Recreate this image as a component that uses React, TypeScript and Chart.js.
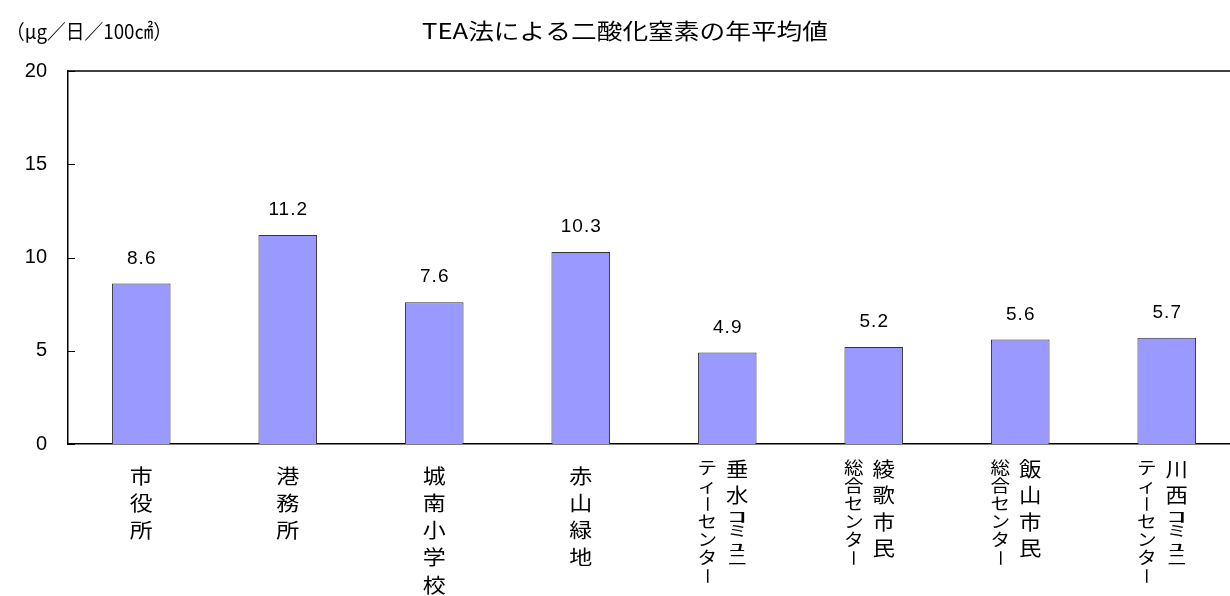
import React, { useEffect, useRef } from "react";
import { Chart, registerables } from "chart.js";

Chart.register(...registerables);

const TITLE = "TEA法による二酸化窒素の年平均値";
const UNIT_LABEL = "（μg／日／100㎠）";
const labelMain = ["市役所", "港務所", "城南小学校", "赤山緑地", "垂水ｺﾐｭﾆ", "綾歌市民", "飯山市民", "川西ｺﾐｭﾆ"];
const labelSub = ["", "", "", "", "ティーセンター", "総合センター", "総合センター", "ティーセンター"];
const values = [8.6, 11.2, 7.6, 10.3, 4.9, 5.2, 5.6, 5.7];
const yTicks = [0, 5, 10, 15, 20];

const SANS = '"Liberation Sans", "Noto Sans CJK JP", sans-serif';
const CJK = '"Noto Sans CJK JP", "Liberation Sans", sans-serif';

function drawColumn(
  ctx: CanvasRenderingContext2D,
  text: string,
  cx: number,
  firstCenter: number,
  pitchFull: number,
  pitchHalf: number,
  sx: number
) {
  let y = firstCenter - pitchFull / 2;
  for (const ch of Array.from(text)) {
    const half = /[\uFF61-\uFF9F]/.test(ch);
    const pitch = half ? pitchHalf : pitchFull;
    const cy = y + pitch / 2;
    ctx.save();
    ctx.translate(cx, cy);
    if (ch === "ー") {
      ctx.rotate(Math.PI / 2);
    } else if (half) {
      ctx.scale(2.0, 0.75);
    } else {
      ctx.scale(sx, 1);
    }
    ctx.fillText(ch, 0, 0);
    ctx.restore();
    y += pitch;
  }
}

function fitText(ctx: CanvasRenderingContext2D, text: string, left: number, cy: number, width: number) {
  const w = ctx.measureText(text).width;
  ctx.save();
  ctx.translate(left, cy);
  ctx.scale(width / w, 1);
  ctx.textAlign = "left";
  ctx.fillText(text, 0, 0);
  ctx.restore();
}

const overlayPlugin = {
  id: "overlay",
  afterDraw(chart: any) {
    const ctx: CanvasRenderingContext2D = chart.ctx;
    const area = chart.chartArea;
    const xs = chart.scales.x;
    const ys = chart.scales.y;
    ctx.save();
    ctx.strokeStyle = "#000";
    ctx.lineWidth = 1.5;
    ctx.beginPath();
    ctx.moveTo(area.left, area.top);
    ctx.lineTo(chart.width, area.top);
    ctx.stroke();
    ctx.lineWidth = 1;
    for (const t of yTicks) {
      const py = Math.round(ys.getPixelForValue(t)) + 0.5;
      ctx.beginPath();
      ctx.moveTo(area.left, py);
      ctx.lineTo(area.left + 7, py);
      ctx.stroke();
    }
    ctx.fillStyle = "#000";
    ctx.font = `19px ${SANS}`;
    (ctx as any).letterSpacing = "1px";
    ctx.textAlign = "center";
    ctx.textBaseline = "middle";
    values.forEach((v, i) => {
      const px = xs.getPixelForValue(i);
      const py = ys.getPixelForValue(v);
      ctx.fillText(v.toFixed(1), px + 0.5, py - 25);
    });
    (ctx as any).letterSpacing = "0px";
    labelMain.forEach((m, i) => {
      const px = xs.getPixelForValue(i);
      ctx.font = `20px ${CJK}`;
      if (labelSub[i]) {
        drawColumn(ctx, m, px + 10, 469, 26.5, 14.5, 1.12);
        ctx.font = `17px ${CJK}`;
        drawColumn(ctx, labelSub[i], px - 20, 468, 18, 9, 1.15);
      } else {
        drawColumn(ctx, m, px, 476, 27.3, 14, 1.15);
      }
    });
    ctx.font = `22px ${CJK}`;
    fitText(ctx, TITLE, 422, 31, 406);
    ctx.font = `20px ${CJK}`;
    fitText(ctx, UNIT_LABEL, 6, 31, 166);
    ctx.restore();
  },
};

export default function App() {
  const ref = useRef<HTMLCanvasElement | null>(null);
  useEffect(() => {
    if (!ref.current) return;
    const chart = new Chart(ref.current, {
      type: "bar",
      data: {
        labels: labelMain.map((m, i) => m + labelSub[i]),
        datasets: [
          {
            data: values,
            backgroundColor: "#9999FF",
            borderColor: "#333333",
            borderWidth: 1,
            barPercentage: 0.4,
            categoryPercentage: 1,
          },
        ],
      },
      options: {
        responsive: false,
        animation: false,
        devicePixelRatio: 1,
        layout: { padding: { top: 71, right: 10, left: 0, bottom: 0 } },
        plugins: { legend: { display: false }, title: { display: false }, tooltip: { enabled: false } },
        scales: {
          x: {
            grid: { display: false, drawTicks: false },
            border: { display: true, color: "#000", width: 1.5 },
            ticks: { display: false },
            afterFit: (s: any) => {
              s.height = 152;
            },
          },
          y: {
            min: 0,
            max: 20,
            ticks: { stepSize: 5, color: "#000", padding: 21, font: { size: 20, family: SANS } },
            grid: { display: false, drawTicks: false },
            border: { display: true, color: "#000", width: 1.5 },
            afterFit: (s: any) => {
              s.width = 68;
            },
          },
        },
      },
      plugins: [overlayPlugin],
    });
    return () => chart.destroy();
  }, []);
  return (
    <div style={{ position: "fixed", left: 0, top: 0, width: 1230, height: 596, overflow: "hidden", background: "#fff" }}>
      <canvas ref={ref} width={1250} height={596} style={{ display: "block", width: 1250, height: 596 }} />
    </div>
  );
}
